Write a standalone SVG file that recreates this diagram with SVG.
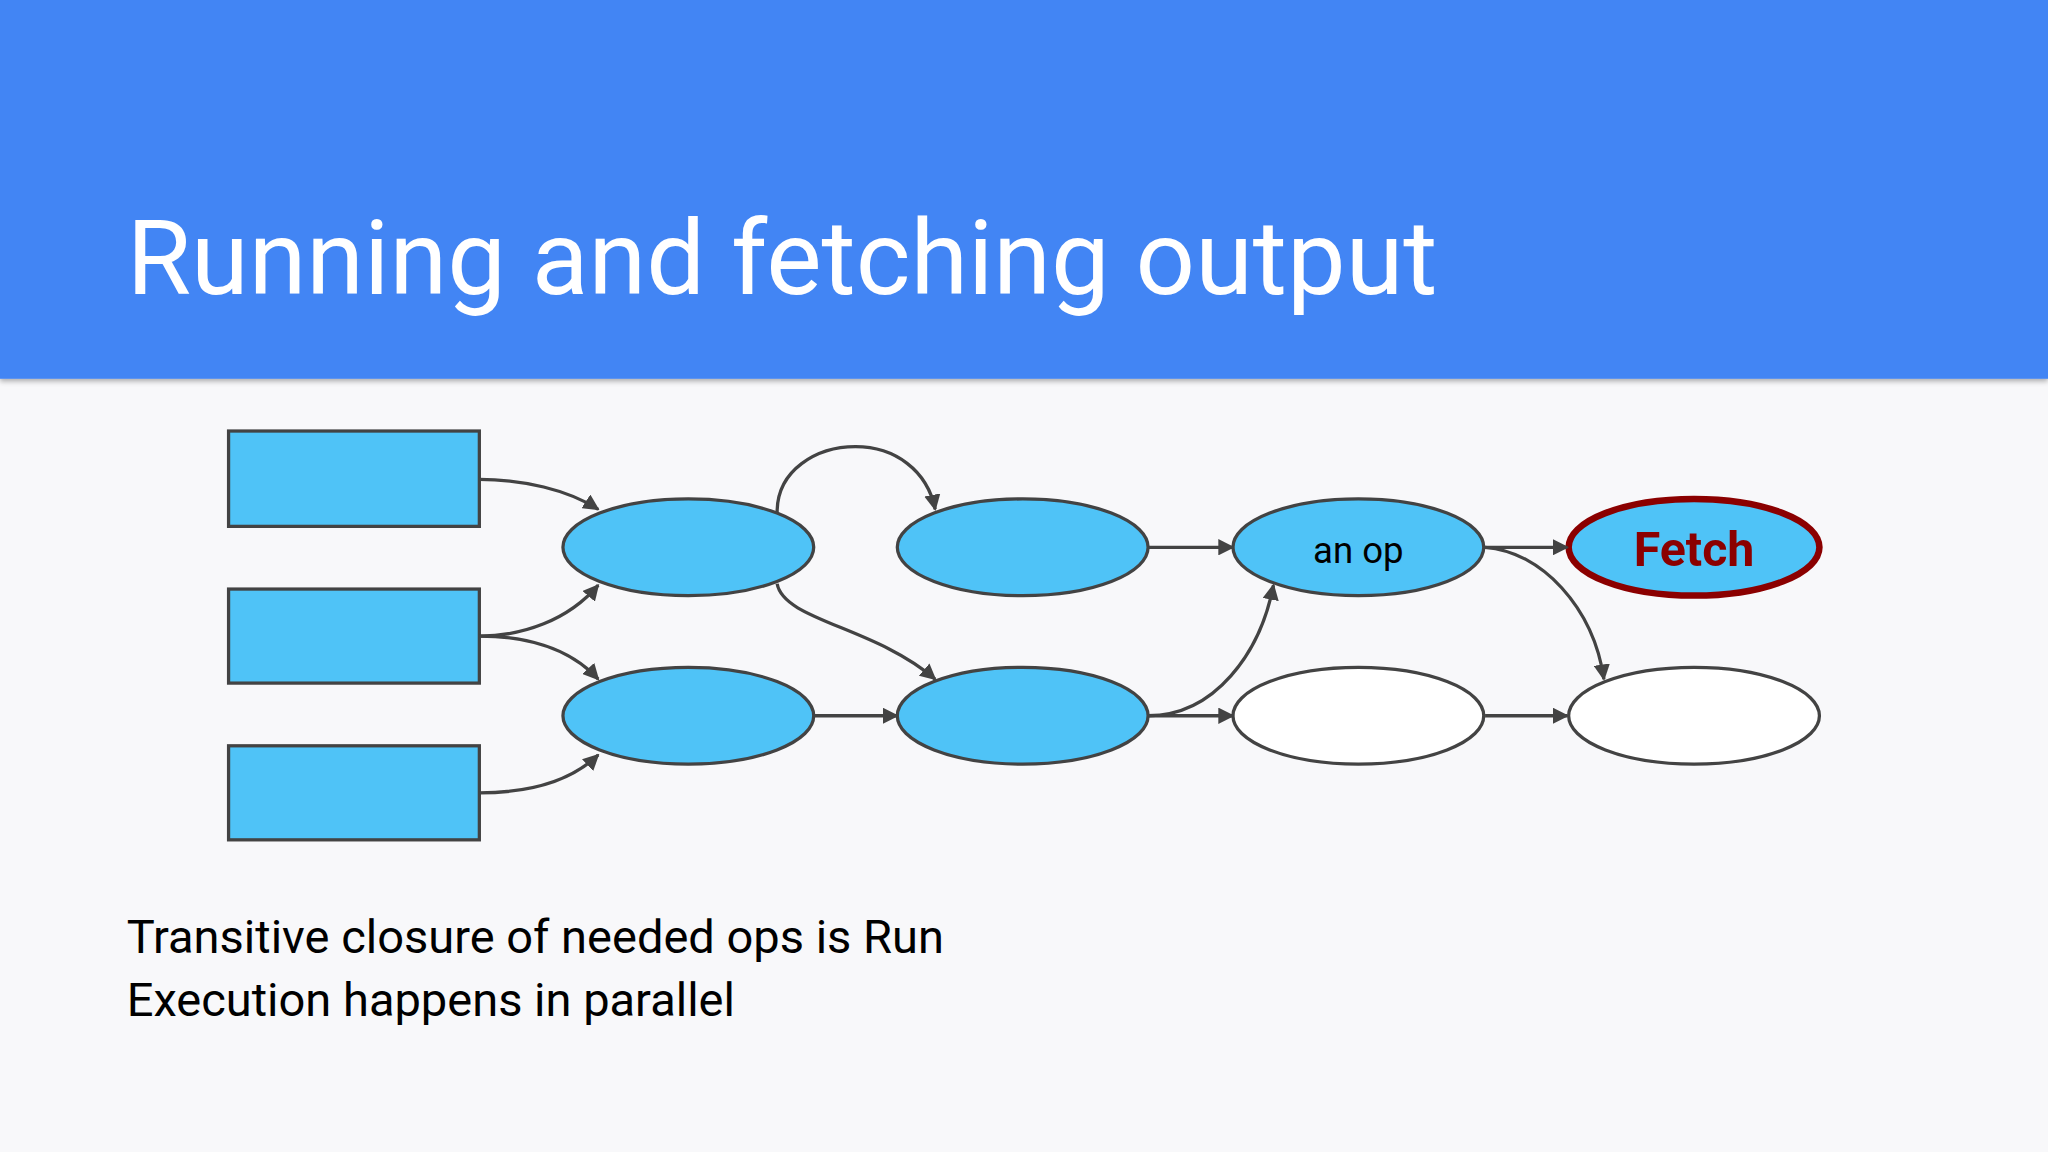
<svg xmlns="http://www.w3.org/2000/svg" width="2048" height="1152" viewBox="0 0 2048 1152">
<defs>
<marker id="ah" viewBox="0 0 10 10" refX="9" refY="5" markerWidth="5" markerHeight="5" orient="auto" markerUnits="strokeWidth"><path d="M0,0 L10,5 L0,10 z" fill="#434343"/></marker>
<filter id="sh" x="0" y="0" width="1" height="1.1"><feDropShadow dx="0" dy="2" stdDeviation="2" flood-opacity="0.3"/></filter>
<style>
.r{fill:#4fc3f7;stroke:#434343;stroke-width:2.5}
.e{fill:#4fc3f7;stroke:#434343;stroke-width:2.5}
.w{fill:#ffffff;stroke:#434343;stroke-width:2.5}
.c{fill:none;stroke:#434343;stroke-width:2.5;marker-end:url(#ah)}
text{font-family:Roboto,"Liberation Sans",sans-serif}
</style>
</defs>
<rect width="2048" height="1152" fill="#f8f8fa"/>
<g transform="scale(1.306122)">
<rect x="0" y="0" width="1568" height="290" fill="#4285f4" filter="url(#sh)"/>
<text x="97" y="225" font-size="80" fill="#ffffff">Running and fetching output</text>
<g id="r1"><rect class="r" x="175" y="330" width="192" height="73"/></g>
<g id="r2"><rect class="r" x="175" y="451" width="192" height="72"/></g>
<g id="r3"><rect class="r" x="175" y="571" width="192" height="72"/></g>
<g id="e1"><ellipse class="e" cx="527" cy="419" rx="96" ry="37"/></g>
<g id="e2"><ellipse class="e" cx="783" cy="419" rx="96" ry="37"/></g>
<g id="e3"><ellipse class="e" cx="1040" cy="419" rx="96" ry="37"/><text x="1040" y="431" font-size="28" text-anchor="middle" fill="#000">an op</text></g>
<g id="fetch"><ellipse cx="1297" cy="419" rx="96" ry="37" fill="#4fc3f7" stroke="#8b0000" stroke-width="5"/><text x="1297" y="433" font-size="37" font-weight="bold" text-anchor="middle" fill="#8b0000">Fetch</text></g>
<g id="e5"><ellipse class="e" cx="527" cy="548" rx="96" ry="37"/></g>
<g id="e6"><ellipse class="e" cx="783" cy="548" rx="96" ry="37"/></g>
<g id="e7"><ellipse class="w" cx="1040" cy="548" rx="96" ry="37"/></g>
<g id="e8"><ellipse class="w" cx="1297" cy="548" rx="96" ry="37"/></g>
<g id="connectors">
<path class="c" d="M367,367 C400,367 435,375 458,390"/>
<path class="c" d="M367,487 C400,487 435,475 458,448"/>
<path class="c" d="M367,487 C400,487 435,495 458,520"/>
<path class="c" d="M367,607 C400,607 435,600 458,578"/>
<path class="c" d="M595,392 C595,360 625,342 655,342 C685,342 710,360 716,390"/>
<path class="c" d="M595,447 C600,475 670,480 716,520"/>
<path class="c" d="M623,548 L687,548"/>
<path class="c" d="M879,548 L944,548"/>
<path class="c" d="M879,548 C930,548 965,500 975,448"/>
<path class="c" d="M879,419 L944,419"/>
<path class="c" d="M1137,419 L1200,419"/>
<path class="c" d="M1137,419 C1180,422 1220,465 1228,520"/>
<path class="c" d="M1137,548 L1200,548"/>
</g>
<text x="97" y="730" font-size="36" fill="#000">Transitive closure of needed ops is Run</text>
<text x="97" y="778" font-size="36" fill="#000">Execution happens in parallel</text>
</g>
</svg>
